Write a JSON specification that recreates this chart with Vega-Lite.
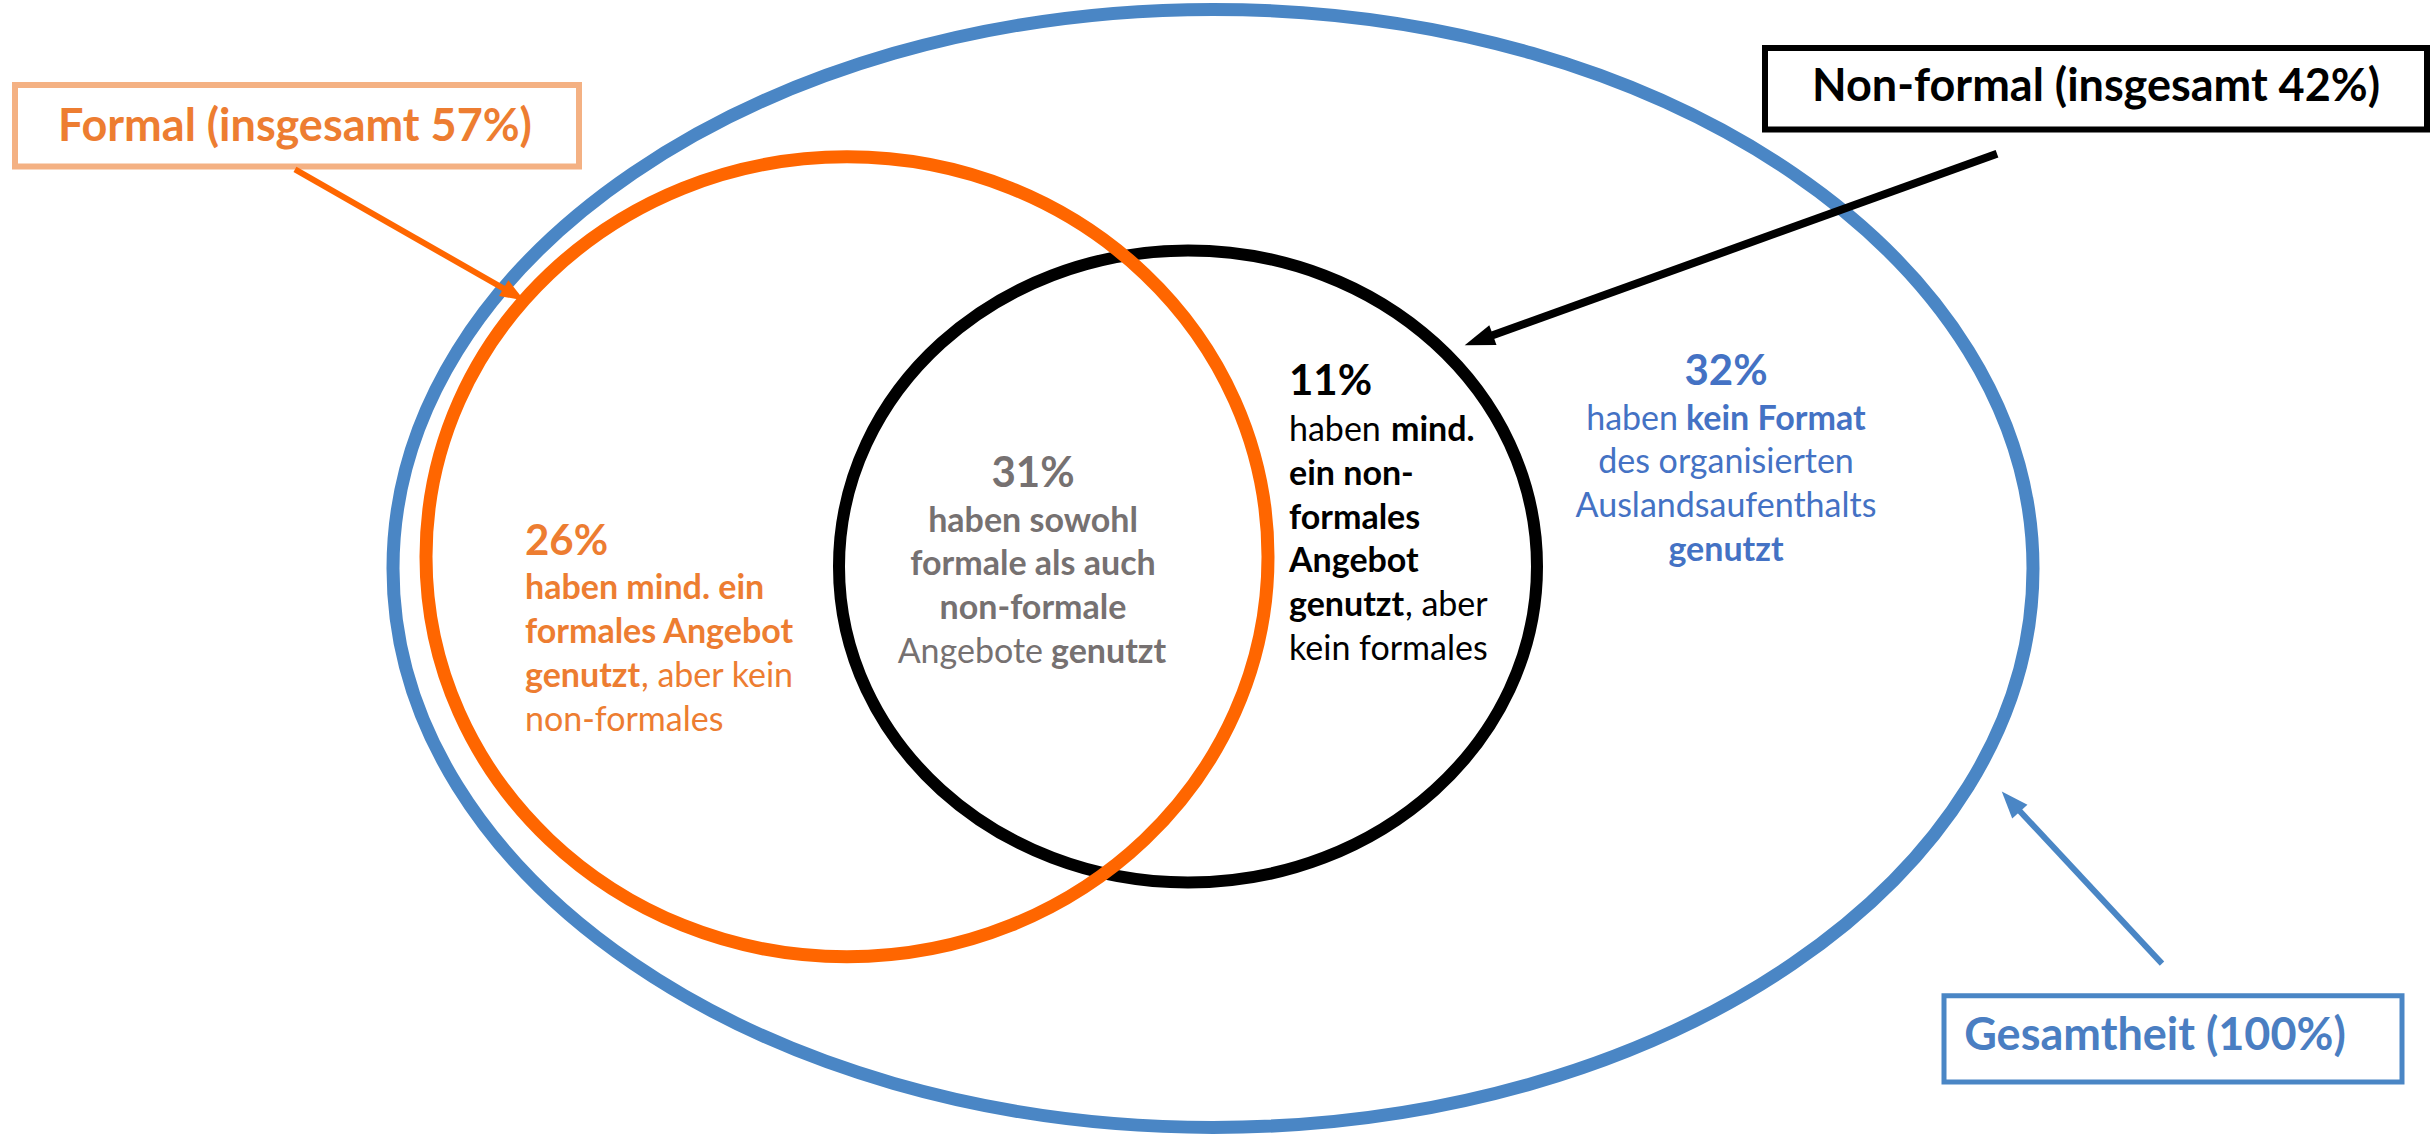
{
  "$schema": "https://vega.github.io/schema/vega-lite/v6.json",
  "autosize": {"type": "fit", "contains": "padding"},
  "width": 2433,
  "height": 1137,
  "padding": 0,
  "background": "#ffffff",
  "config": {"view": {"stroke": null}, "text": {"font": "Lato"}},
  "datasets": {
    "ellipses": [
      {"name": "Gesamtheit", "x": 1213, "y": 571},
      {"name": "Formal", "x": 847, "y": 559},
      {"name": "Non-formal", "x": 1188, "y": 569}
    ],
    "arrows": [
      {"group": "Formal", "x": 295, "y": 160, "x2": 516, "y2": 290},
      {"group": "Non-formal", "x": 1997, "y": 144, "x2": 1476, "y2": 337},
      {"group": "Gesamtheit", "x": 2162, "y": 978, "x2": 2009, "y2": 809}
    ],
    "boxes": [
      {"group": "Formal", "x": 15, "y": 73, "x2": 579, "y2": 157},
      {"group": "Non-formal", "x": 1765, "y": 35, "x2": 2427, "y2": 119},
      {"group": "Gesamtheit", "x": 1944, "y": 1011, "x2": 2402, "y2": 1100}
    ],
    "texts": [
      {"text": "Formal (insgesamt 57%)", "x": 295, "y": 131, "group": "Formal", "kind": "label", "weight": "bold", "align": "center"},
      {"text": "Non-formal (insgesamt 42%)", "x": 2096, "y": 90, "group": "Non-formal", "kind": "label", "weight": "bold", "align": "center"},
      {"text": "Gesamtheit (100%)", "x": 2155, "y": 1067, "group": "Gesamtheit", "kind": "label", "weight": "bold", "align": "center"},
      {"text": "26%", "x": 525, "y": 557, "group": "Formal", "kind": "pct", "weight": "bold", "align": "left"},
      {"text": "11%", "x": 1289, "y": 392, "group": "Non-formal", "kind": "pct", "weight": "bold", "align": "left"},
      {"text": "31%", "x": 1033, "y": 487, "group": "Both", "kind": "pct", "weight": "bold", "align": "center"},
      {"text": "32%", "x": 1726, "y": 382, "group": "None", "kind": "pct", "weight": "bold", "align": "center"},
      {"text": "haben mind. ein", "x": 525, "y": 603, "group": "Formal", "kind": "body", "weight": "bold", "align": "left"},
      {"text": "formales Angebot", "x": 525, "y": 648, "group": "Formal", "kind": "body", "weight": "bold", "align": "left"},
      {"text": "genutzt", "x": 525, "y": 693, "group": "Formal", "kind": "body", "weight": "bold", "align": "left"},
      {"text": ", aber kein", "x": 641, "y": 693, "group": "Formal", "kind": "body", "weight": "normal", "align": "left"},
      {"text": "non-formales", "x": 525, "y": 738, "group": "Formal", "kind": "body", "weight": "normal", "align": "left"},
      {"text": "haben sowohl", "x": 1033, "y": 533, "group": "Both", "kind": "body", "weight": "bold", "align": "center"},
      {"text": "formale als auch", "x": 1033, "y": 578, "group": "Both", "kind": "body", "weight": "bold", "align": "center"},
      {"text": "non-formale", "x": 1033, "y": 623, "group": "Both", "kind": "body", "weight": "bold", "align": "center"},
      {"text": "Angebote", "x": 1043, "y": 668, "group": "Both", "kind": "body", "weight": "normal", "align": "right"},
      {"text": "genutzt", "x": 1051, "y": 668, "group": "Both", "kind": "body", "weight": "bold", "align": "left"},
      {"text": "haben", "x": 1289, "y": 440, "group": "Non-formal", "kind": "body", "weight": "normal", "align": "left"},
      {"text": "mind.", "x": 1391, "y": 440, "group": "Non-formal", "kind": "body", "weight": "bold", "align": "left"},
      {"text": "ein non-", "x": 1289, "y": 485, "group": "Non-formal", "kind": "body", "weight": "bold", "align": "left"},
      {"text": "formales", "x": 1289, "y": 530, "group": "Non-formal", "kind": "body", "weight": "bold", "align": "left"},
      {"text": "Angebot", "x": 1289, "y": 575, "group": "Non-formal", "kind": "body", "weight": "bold", "align": "left"},
      {"text": "genutzt", "x": 1289, "y": 620, "group": "Non-formal", "kind": "body", "weight": "bold", "align": "left"},
      {"text": ", aber", "x": 1405, "y": 620, "group": "Non-formal", "kind": "body", "weight": "normal", "align": "left"},
      {"text": "kein formales", "x": 1289, "y": 665, "group": "Non-formal", "kind": "body", "weight": "normal", "align": "left"},
      {"text": "haben", "x": 1678, "y": 428, "group": "None", "kind": "body", "weight": "normal", "align": "right"},
      {"text": "kein Format", "x": 1686, "y": 428, "group": "None", "kind": "body", "weight": "bold", "align": "left"},
      {"text": "des organisierten", "x": 1726, "y": 473, "group": "None", "kind": "body", "weight": "normal", "align": "center"},
      {"text": "Auslandsaufenthalts", "x": 1726, "y": 518, "group": "None", "kind": "body", "weight": "normal", "align": "center"},
      {"text": "genutzt", "x": 1726, "y": 563, "group": "None", "kind": "body", "weight": "bold", "align": "center"}
    ]
  },
  "encoding": {
    "x": {"field": "x", "type": "quantitative", "scale": {"domain": [0, 2433], "nice": false, "zero": false}, "axis": null},
    "y": {"field": "y", "type": "quantitative", "scale": {"domain": [0, 1137], "nice": false, "zero": false, "reverse": true}, "axis": null}
  },
  "layer": [
    {
      "data": {"name": "ellipses"},
      "transform": [{"filter": "datum.name === 'Gesamtheit'"}],
      "mark": {"type": "point", "shape": "M1,0 C1,0.3765 0.5523,0.6817 0,0.6817 C-0.5523,0.6817 -1,0.3765 -1,0 C-1,-0.3765 -0.5523,-0.6817 0,-0.6817 C0.5523,-0.6817 1,-0.3765 1,0 Z", "size": 2689600, "filled": false, "color": "#4A86C5", "strokeWidth": 13, "opacity": 1}
    },
    {
      "data": {"name": "ellipses"},
      "transform": [{"filter": "datum.name === 'Non-formal'"}],
      "mark": {"type": "point", "shape": "M1,0 C1,0.5001 0.5523,0.9054 0,0.9054 C-0.5523,0.9054 -1,0.5001 -1,0 C-1,-0.5001 -0.5523,-0.9054 0,-0.9054 C0.5523,-0.9054 1,-0.5001 1,0 Z", "size": 487204, "filled": false, "color": "#000000", "strokeWidth": 12, "opacity": 1}
    },
    {
      "data": {"name": "ellipses"},
      "transform": [{"filter": "datum.name === 'Formal'"}],
      "mark": {"type": "point", "shape": "M1,0 C1,0.5247 0.5523,0.9501 0,0.9501 C-0.5523,0.9501 -1,0.5247 -1,0 C-1,-0.5247 -0.5523,-0.9501 0,-0.9501 C0.5523,-0.9501 1,-0.5247 1,0 Z", "size": 708964, "filled": false, "color": "#FF6600", "strokeWidth": 13, "opacity": 1}
    },
    {
      "data": {"name": "boxes"},
      "transform": [{"filter": "datum.group === 'Formal'"}],
      "mark": {"type": "rect", "fill": "#ffffff", "stroke": "#F4B183", "strokeWidth": 6},
      "encoding": {"x2": {"field": "x2"}, "y2": {"field": "y2"}}
    },
    {
      "data": {"name": "boxes"},
      "transform": [{"filter": "datum.group === 'Non-formal'"}],
      "mark": {"type": "rect", "fill": "#ffffff", "stroke": "#000000", "strokeWidth": 6},
      "encoding": {"x2": {"field": "x2"}, "y2": {"field": "y2"}}
    },
    {
      "data": {"name": "boxes"},
      "transform": [{"filter": "datum.group === 'Gesamtheit'"}],
      "mark": {"type": "rect", "fill": "#ffffff", "stroke": "#4A86C5", "strokeWidth": 5},
      "encoding": {"x2": {"field": "x2"}, "y2": {"field": "y2"}}
    },
    {
      "data": {"name": "arrows"},
      "transform": [{"filter": "datum.group === 'Formal'"}],
      "mark": {"type": "rule", "color": "#FF6600", "strokeWidth": 6},
      "encoding": {"x2": {"field": "x2"}, "y2": {"field": "y2"}}
    },
    {
      "data": {"name": "arrows"},
      "transform": [{"filter": "datum.group === 'Non-formal'"}],
      "mark": {"type": "rule", "color": "#000000", "strokeWidth": 8},
      "encoding": {"x2": {"field": "x2"}, "y2": {"field": "y2"}}
    },
    {
      "data": {"name": "arrows"},
      "transform": [{"filter": "datum.group === 'Gesamtheit'"}],
      "mark": {"type": "rule", "color": "#4A86C5", "strokeWidth": 6},
      "encoding": {"x2": {"field": "x2"}, "y2": {"field": "y2"}}
    },
    {
      "data": {"name": "arrows"},
      "transform": [{"filter": "datum.group === 'Formal'"}],
      "mark": {"type": "point", "shape": "M0,-0.4 L0.38,0.6 L-0.38,0.6 Z", "size": 2304, "angle": 121, "filled": true, "color": "#FF6600", "opacity": 1, "strokeWidth": 0},
      "encoding": {"x": {"field": "x2", "type": "quantitative"}, "y": {"field": "y2", "type": "quantitative"}}
    },
    {
      "data": {"name": "arrows"},
      "transform": [{"filter": "datum.group === 'Non-formal'"}],
      "mark": {"type": "point", "shape": "M0,-0.4 L0.35,0.6 L-0.35,0.6 Z", "size": 3600, "angle": 250, "filled": true, "color": "#000000", "opacity": 1, "strokeWidth": 0},
      "encoding": {"x": {"field": "x2", "type": "quantitative"}, "y": {"field": "y2", "type": "quantitative"}}
    },
    {
      "data": {"name": "arrows"},
      "transform": [{"filter": "datum.group === 'Gesamtheit'"}],
      "mark": {"type": "point", "shape": "M0,-0.4 L0.38,0.6 L-0.38,0.6 Z", "size": 2916, "angle": 318, "filled": true, "color": "#4A86C5", "opacity": 1, "strokeWidth": 0},
      "encoding": {"x": {"field": "x2", "type": "quantitative"}, "y": {"field": "y2", "type": "quantitative"}}
    },
    {
      "data": {"name": "texts"},
      "transform": [{"filter": "datum.kind === 'label'"}],
      "mark": {"type": "text", "font": "Lato", "fontWeight": "bold", "fontSize": 45, "align": "center", "baseline": "alphabetic"},
      "encoding": {"text": {"field": "text"}, "color": {"field": "group", "type": "nominal", "scale": {"domain": ["Formal", "Both", "Non-formal", "None", "Gesamtheit"], "range": ["#ED7D31", "#767171", "#000000", "#4472C4", "#4A7EC2"]}, "legend": null}}
    },
    {
      "data": {"name": "texts"},
      "transform": [{"filter": "datum.kind === 'pct' && datum.align === 'left'"}],
      "mark": {"type": "text", "font": "Lato", "fontWeight": "bold", "fontSize": 42, "align": "left", "baseline": "alphabetic"},
      "encoding": {"text": {"field": "text"}, "color": {"field": "group", "type": "nominal", "legend": null}}
    },
    {
      "data": {"name": "texts"},
      "transform": [{"filter": "datum.kind === 'pct' && datum.align === 'center'"}],
      "mark": {"type": "text", "font": "Lato", "fontWeight": "bold", "fontSize": 42, "align": "center", "baseline": "alphabetic"},
      "encoding": {"text": {"field": "text"}, "color": {"field": "group", "type": "nominal", "legend": null}}
    },
    {
      "data": {"name": "texts"},
      "transform": [{"filter": "datum.kind === 'body' && datum.weight === 'bold' && datum.align === 'left'"}],
      "mark": {"type": "text", "font": "Lato", "fontWeight": "bold", "fontSize": 34, "align": "left", "baseline": "alphabetic"},
      "encoding": {"text": {"field": "text"}, "color": {"field": "group", "type": "nominal", "legend": null}}
    },
    {
      "data": {"name": "texts"},
      "transform": [{"filter": "datum.kind === 'body' && datum.weight === 'normal' && datum.align === 'left'"}],
      "mark": {"type": "text", "font": "Lato", "fontWeight": "normal", "fontSize": 34, "align": "left", "baseline": "alphabetic"},
      "encoding": {"text": {"field": "text"}, "color": {"field": "group", "type": "nominal", "legend": null}}
    },
    {
      "data": {"name": "texts"},
      "transform": [{"filter": "datum.kind === 'body' && datum.weight === 'bold' && datum.align === 'center'"}],
      "mark": {"type": "text", "font": "Lato", "fontWeight": "bold", "fontSize": 34, "align": "center", "baseline": "alphabetic"},
      "encoding": {"text": {"field": "text"}, "color": {"field": "group", "type": "nominal", "legend": null}}
    },
    {
      "data": {"name": "texts"},
      "transform": [{"filter": "datum.kind === 'body' && datum.weight === 'normal' && datum.align === 'center'"}],
      "mark": {"type": "text", "font": "Lato", "fontWeight": "normal", "fontSize": 34, "align": "center", "baseline": "alphabetic"},
      "encoding": {"text": {"field": "text"}, "color": {"field": "group", "type": "nominal", "legend": null}}
    },
    {
      "data": {"name": "texts"},
      "transform": [{"filter": "datum.kind === 'body' && datum.weight === 'normal' && datum.align === 'right'"}],
      "mark": {"type": "text", "font": "Lato", "fontWeight": "normal", "fontSize": 34, "align": "right", "baseline": "alphabetic"},
      "encoding": {"text": {"field": "text"}, "color": {"field": "group", "type": "nominal", "legend": null}}
    }
  ]
}
